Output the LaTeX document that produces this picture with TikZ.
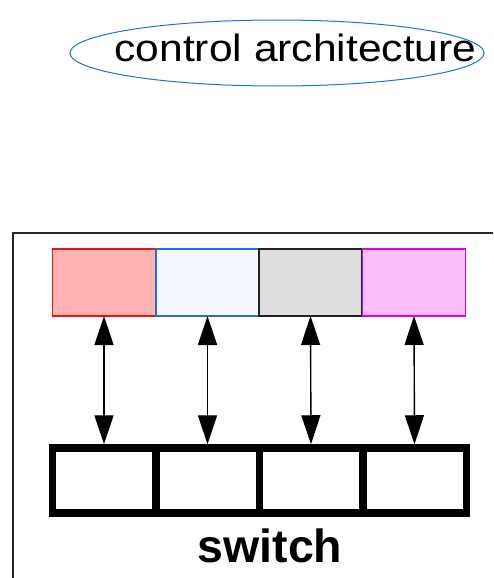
\documentclass[tikz,border=0pt]{standalone}
\usepackage{fontspec}
\setmainfont{Liberation Sans}
\usetikzlibrary{shapes.geometric,arrows.meta}
\definecolor{redfill}{HTML}{FFB3B3}
\definecolor{redline}{HTML}{EE1111}
\definecolor{bluefill}{HTML}{F5F9FF}
\definecolor{blueline}{HTML}{1E6FE6}
\definecolor{grayfill}{HTML}{DDDDDD}
\definecolor{grayline}{HTML}{222222}
\definecolor{pinkfill}{HTML}{FBBFFB}
\definecolor{pinkline}{HTML}{E000E0}
\tikzset{
  cell/.style={draw, line width=1.2pt, minimum width=103pt, minimum height=67pt, inner sep=0pt, outer sep=0pt},
  swcell/.style={draw=black, line width=7.5pt, minimum width=103.5pt, minimum height=65pt, inner sep=0pt},
  link/.style={line width=1.4pt, {Triangle[length=29pt,width=19pt]}-{Triangle[length=29pt,width=19pt]}},
  frame/.style={draw=black!85, line width=1.3pt}
}
\begin{document}
\begin{tikzpicture}[x=1pt,y=-1pt]
\useasboundingbox (0,0) rectangle (493,578);
\begin{scope}
\clip (0,0) rectangle (493,578);
\draw[frame] (13,233) rectangle (520,600);
\end{scope}
% ellipse and title
\node[draw=blueline, line width=1pt, ellipse, minimum width=414pt, minimum height=66pt, inner sep=0pt] (ell) at (277,53) {};
\node[font=\fontsize{38pt}{40pt}\selectfont, inner sep=0pt, anchor=base] (title) at (295.5,62) {\scalebox{1.12}[1]{control architecture}};
% coloured boxes
\node[cell, draw=redline, fill=redfill] (c1) at (104,282.5) {};
\node[cell, draw=blueline, fill=bluefill] (c2) at (207.5,282.5) {};
\node[cell, draw=grayline, fill=grayfill] (c3) at (310.5,282.5) {};
\node[cell, draw=pinkline, fill=pinkfill] (c4) at (414,282.5) {};
% switch
\node[swcell] (s1) at (104,480.5) {};
\node[swcell] (s2) at (207.5,480.5) {};
\node[swcell] (s3) at (311,480.5) {};
\node[swcell] (s4) at (414.5,480.5) {};
\node[font=\bfseries\fontsize{46.5pt}{48pt}\selectfont, inner sep=0pt, anchor=base] (sw) at (270,562) {switch};
% connectors
\draw[link] (c1.south) -- (s1.north);
\draw[link] (c2.south) -- (s2.north);
\draw[link] (c3.south) -- (s3.north);
\draw[link] (c4.south) -- (s4.north);
\end{tikzpicture}
\end{document}
